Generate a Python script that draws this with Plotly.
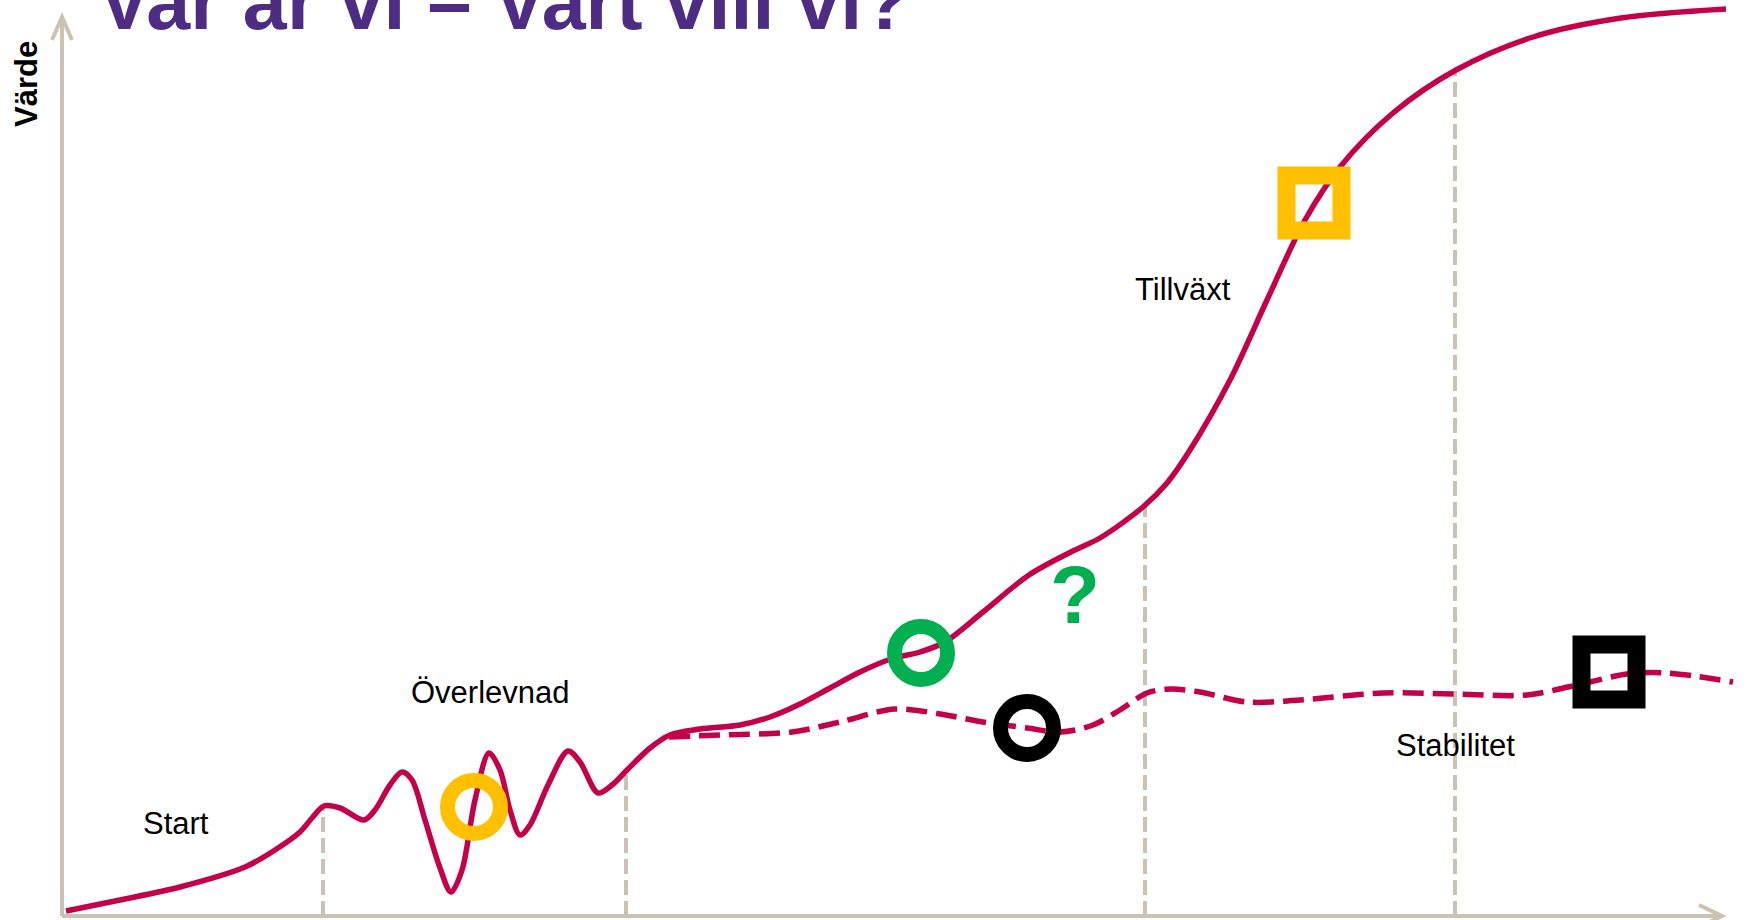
import numpy as np
import plotly.graph_objects as go

W, H = 1750, 920

# ---------------- data (x to the right, y = value upwards) ----------------
# main (realised) curve
solid_x = [66, 120, 180, 245, 275, 300, 312, 324, 340, 364, 375, 390, 402, 412, 425, 440,
           451, 462, 475, 489, 500, 510, 520, 530, 548, 568, 580, 598, 612, 627, 650, 670,
           700, 740, 770, 800, 830, 860, 891, 920, 945, 983, 1029, 1075, 1100, 1143, 1167,
           1190, 1230, 1267, 1305, 1340, 1393, 1456, 1533, 1621, 1726]
solid_py = [911, 900, 887, 867, 850, 832, 818, 806, 808, 820, 810, 785, 772, 780, 820, 868,
            892, 870, 800, 753, 770, 810, 835, 825, 785, 751, 762, 793, 785, 770, 748, 735,
            729, 725, 717, 704, 688, 672, 659, 652, 642, 612, 575, 550, 538, 507, 483,
            450, 380, 300, 220, 167, 113, 70, 37, 18, 9]
solid_y = [H - v for v in solid_py]

# alternative (stagnating) dashed curve
dash_x = [669, 720, 792, 840, 895, 940, 983, 1027, 1060, 1093, 1120, 1147, 1170, 1200,
          1247, 1300, 1383, 1453, 1527, 1573, 1627, 1667, 1733]
dash_py = [737, 735, 732, 722, 709, 714, 722, 728, 732, 725, 710, 693, 689, 692,
           702, 700, 693, 694, 695, 686, 674, 673, 682]
dash_y = [H - v for v in dash_py]

# phase boundaries and labels
boundary_x = [323, 626, 1145, 1455]
phase_labels = ["Start", "Överlevnad", "Tillväxt", "Stabilitet"]
phase_label_x = [176, 490, 1183, 1455]
phase_label_y = [H - 823, H - 692, H - 289, H - 745]

# position markers
mark_x = [474, 921, 1027, 1314, 1609]
mark_y = [H - 807, H - 653, H - 728, H - 203, H - 672]
mark_symbol = ["circle-open", "circle-open", "circle-open", "square-open", "square-open"]
mark_color = ["#FFC000", "#00B050", "#000000", "#FFC000", "#000000"]
mark_size = [53, 53, 53, 55, 55]
mark_lw = [15, 15, 15, 18, 18]

title_text = "Var är vi – Vart vill vi?"
y_title = "Värde"

# axis extents
x0, x_end = 62, 1722
y0, y_end = H - 916, H - 17

CRIMSON = "#C4004B"
BEIGE = "#CBC2B3"
PURPLE = "#4E2C84"
FONT = "Liberation Sans, Arial, sans-serif"

fig = go.Figure()

fig.add_trace(go.Scatter(x=solid_x, y=solid_y, mode="lines",
                         line=dict(color=CRIMSON, width=5.5, shape="spline", smoothing=0.9),
                         hoverinfo="skip", showlegend=False))
fig.add_trace(go.Scatter(x=dash_x, y=dash_y, mode="lines",
                         line=dict(color=CRIMSON, width=5.5, shape="spline", smoothing=0.9,
                                   dash="21px,9px"),
                         hoverinfo="skip", showlegend=False))
fig.add_trace(go.Scatter(x=mark_x, y=mark_y, mode="markers",
                         marker=dict(symbol=mark_symbol, size=mark_size,
                                     color=mark_color, opacity=1,
                                     line=dict(color=mark_color, width=mark_lw)),
                         hoverinfo="skip", showlegend=False))

shapes = []
# boundary dashed lines from axis up to the curve
for bx in boundary_x:
    top = float(np.interp(bx, solid_x, solid_y))
    shapes.append(dict(type="line", x0=bx, x1=bx, y0=y0, y1=top, layer="below",
                       line=dict(color=BEIGE, width=4, dash="15px,6px")))
# axes
axis_line = dict(color=BEIGE, width=4)
shapes.append(dict(type="line", x0=x0, x1=x0, y0=y0, y1=y_end, layer="below", line=axis_line))
shapes.append(dict(type="line", x0=x0, x1=x_end, y0=y0, y1=y0, layer="below", line=axis_line))
# arrow heads (open V)
shapes.append(dict(type="path", layer="below", line=axis_line,
                   path=f"M {x0-10},{y_end-23} L {x0},{y_end} L {x0+10},{y_end-23}"))
shapes.append(dict(type="path", layer="below", line=axis_line,
                   path=f"M {x_end-23},{y0+11} L {x_end},{y0} L {x_end-23},{y0-11}"))

annotations = []
annotations.append(dict(text=f"<b>{title_text}</b>", x=96, y=H - 48, xanchor="left",
                        yanchor="bottom", showarrow=False,
                        font=dict(family=FONT, size=79, color=PURPLE)))
annotations.append(dict(text=f"<b>{y_title}</b>", x=26, y=H - 84, textangle=-90,
                        xanchor="center", yanchor="middle", showarrow=False,
                        font=dict(family=FONT, size=31, color="#000000")))
for t, lx, ly in zip(phase_labels, phase_label_x, phase_label_y):
    annotations.append(dict(text=t, x=lx, y=ly, xanchor="center", yanchor="middle",
                            showarrow=False, font=dict(family=FONT, size=31, color="#000000")))
annotations.append(dict(text="<b>?</b>", x=1075, y=H - 594, xanchor="center", yanchor="middle",
                        showarrow=False, font=dict(family=FONT, size=82, color="#00B050")))

fig.update_layout(
    width=W, height=H, autosize=False,
    margin=dict(l=0, r=0, t=0, b=0),
    paper_bgcolor="white", plot_bgcolor="white",
    xaxis=dict(range=[0, W], visible=False, fixedrange=True),
    yaxis=dict(range=[0, H], visible=False, fixedrange=True),
    shapes=shapes, annotations=annotations,
)

fig.write_html("out.html", config={"displayModeBar": False},
               post_script="document.body.style.margin='0px';document.body.style.overflow='hidden';")
